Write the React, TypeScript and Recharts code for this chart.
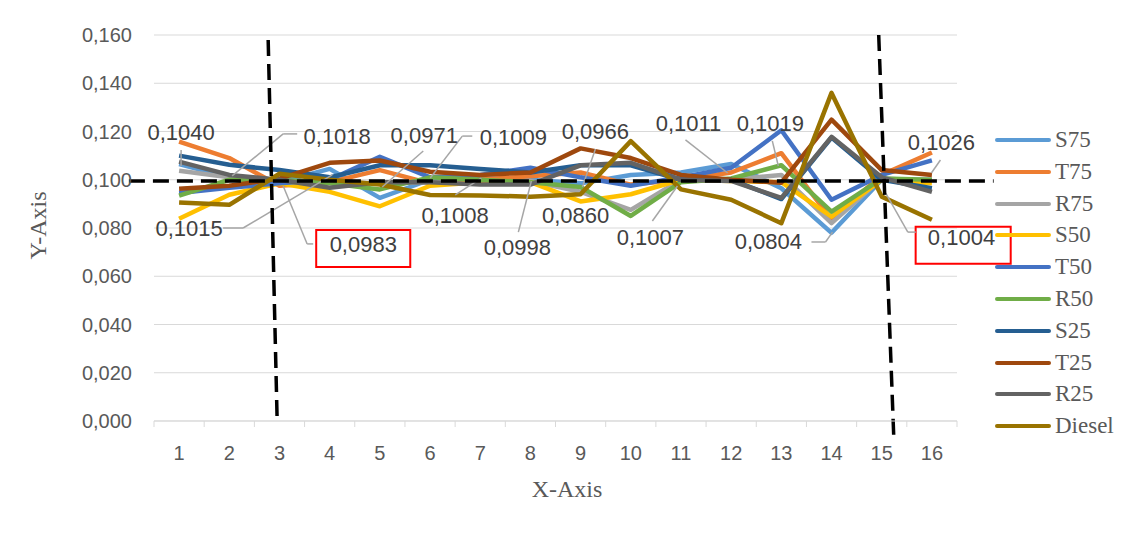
import { LineChart, Line, XAxis, YAxis, CartesianGrid, ReferenceLine, ReferenceArea, ReferenceDot } from "recharts";

// categories on the x axis
const points = [1, 2, 3, 4, 5, 6, 7, 8, 9, 10, 11, 12, 13, 14, 15, 16];

// series values
const s75 = [0.1065, 0.1010, 0.0990, 0.1045, 0.0925, 0.1000, 0.1005, 0.1000, 0.0985, 0.1020, 0.1030, 0.1065, 0.0965, 0.0780, 0.1000, 0.1000];
const t75 = [0.1158, 0.1090, 0.0975, 0.0990, 0.1040, 0.0985, 0.1000, 0.1015, 0.1030, 0.0980, 0.1000, 0.1030, 0.1110, 0.0835, 0.1020, 0.1113];
const r75 = [0.1037, 0.1010, 0.0995, 0.0990, 0.0985, 0.0990, 0.0990, 0.0995, 0.0950, 0.0875, 0.1000, 0.1000, 0.1020, 0.0820, 0.1005, 0.0995];
const s50 = [0.0838, 0.0938, 0.0985, 0.0950, 0.0890, 0.0975, 0.0990, 0.0990, 0.0910, 0.0940, 0.1000, 0.0995, 0.0990, 0.0847, 0.1000, 0.0985];
const t50 = [0.0945, 0.0967, 0.0985, 0.1000, 0.1095, 0.1010, 0.1020, 0.1050, 0.1010, 0.0975, 0.1010, 0.1050, 0.1205, 0.0917, 0.1020, 0.1080];
const r50 = [0.0934, 0.1000, 0.1000, 0.0985, 0.0960, 0.1010, 0.1000, 0.0990, 0.0970, 0.0850, 0.0990, 0.1005, 0.1060, 0.0868, 0.1005, 0.1000];
const s25 = [0.1100, 0.1062, 0.1040, 0.1010, 0.1060, 0.1060, 0.1045, 0.1030, 0.1060, 0.1060, 0.1000, 0.1000, 0.0920, 0.1175, 0.1000, 0.0965];
const t25 = [0.0963, 0.0975, 0.1005, 0.1070, 0.1080, 0.1033, 0.1020, 0.1030, 0.1130, 0.1090, 0.1020, 0.1000, 0.0988, 0.1249, 0.1040, 0.1020];
const r25 = [0.1075, 0.1020, 0.1000, 0.0967, 0.0990, 0.0990, 0.0980, 0.0980, 0.1060, 0.1070, 0.1000, 0.0995, 0.0925, 0.1178, 0.1010, 0.0950];
const diesel = [0.0906, 0.0896, 0.1025, 0.1000, 0.0980, 0.0937, 0.0935, 0.0930, 0.0940, 0.1160, 0.0960, 0.0917, 0.0820, 0.1360, 0.0930, 0.0834];

const seriesNames = ["S75", "T75", "R75", "S50", "T50", "R50", "S25", "T25", "R25", "Diesel"];
const seriesValues = [s75, t75, r75, s50, t50, r50, s25, t25, r25, diesel];
const seriesColors = ["#5B9BD5", "#ED7D31", "#A5A5A5", "#FFC000", "#4472C4", "#70AD47", "#255E91", "#9E480E", "#636363", "#997300"];

const yTicks = [0, 0.02, 0.04, 0.06, 0.08, 0.1, 0.12, 0.14, 0.16];

// callout texts (data coordinates of the text centre)
const calloutText = ["0,1040", "0,1018", "0,1015", "0,0983", "0,0971", "0,1009", "0,0966", "0,1008", "0,0860", "0,0998", "0,1007", "0,1011", "0,1019", "0,0804", "0,1026", "0,1004"];
const calloutX = [1.04, 4.15, 1.2, 4.67, 5.885, 7.66, 9.295, 6.5, 8.9, 7.74, 10.39, 11.15, 12.78, 12.74, 16.19, 16.59];
const calloutY = [0.1194, 0.1181, 0.08, 0.073, 0.1185, 0.1177, 0.1198, 0.085, 0.085, 0.0721, 0.0759, 0.1235, 0.1235, 0.0742, 0.1156, 0.0759];

// leader lines, one polyline each
const leaders: number[][][] = [
  [[1.04, 0.1123], [1.04, 0.1057]],
  [[3.353, 0.119], [3.074, 0.119], [2.057, 0.1016]],
  [[1.877, 0.08], [2.276, 0.08], [4.051, 0.102]],
  [[3.672, 0.0734], [3.552, 0.0734], [3.074, 0.0974]],
  [[5.865, 0.1119], [5.048, 0.097]],
  [[6.842, 0.1181], [6.643, 0.1181], [6.005, 0.1007]],
  [[9.295, 0.1127], [9.036, 0.097]],
  [[6.503, 0.0937], [7.022, 0.1007]],
  [[7.76, 0.0783], [8.019, 0.0995]],
  [[10.43, 0.0829], [10.93, 0.0974]],
  [[11.09, 0.1165], [11.93, 0.1028]],
  [[12.82, 0.1161], [12.94, 0.1057]],
  [[13.6, 0.0742], [13.88, 0.0742], [14.02, 0.0783]],
  [[16.17, 0.1082], [15.99, 0.1028]],
  [[15.68, 0.0783], [15.52, 0.0783], [15.08, 0.0945]],
];

// red boxes [x1, x2, y1, y2]
const boxes = [
  [3.732, 5.606, 0.0638, 0.0792],
  [15.676, 17.57, 0.0652, 0.0805],
];

// dashed marker lines
const dashed = [
  [[0.0, 0.0995], [17.23, 0.0995]],
  [[2.775, 0.1579], [2.954, 0]],
  [[14.94, 0.16], [15.24, -0.0066]],
];

const chartData = points.map((p, i) => {
  const row: any = { x: p };
  seriesNames.forEach((n, k) => (row[n] = seriesValues[k][i]));
  return row;
});

const xTicks: number[] = [];
for (let v = 0.5; v <= 16.5; v += 0.5) xTicks.push(v);

const XTick = (p: any) => {
  const v = p.payload.value;
  if (Number.isInteger(v)) {
    return (
      <text x={p.x} y={p.y + 32} textAnchor="middle" dominantBaseline="central" fontSize={20} fill="#595959" fontFamily="Liberation Sans">
        {v}
      </text>
    );
  }
  return <line x1={p.x} x2={p.x} y1={p.y} y2={p.y + 6} stroke="#d9d9d9" />;
};

const YTick = (p: any) => (
  <text x={p.x - 22} y={p.y} textAnchor="end" dominantBaseline="central" fontSize={20} fill="#595959" fontFamily="Liberation Sans">
    {p.payload.value.toFixed(3).replace(".", ",")}
  </text>
);

export default function App() {
  return (
    <div style={{ position: "relative", width: 1120, height: 526, margin: "-1px 0 0 -1px", border: "1px solid #d9d9d9", borderBottom: "none" }}>
      <LineChart width={1120} height={526} data={chartData} margin={{ top: 27, right: 171, bottom: 0, left: 0 }}>
        <CartesianGrid vertical={false} stroke="#d9d9d9" />
        <XAxis dataKey="x" type="number" domain={[0.5, 16.5]} ticks={xTicks} interval={0} height={113} tickLine={false} tickSize={0} tickMargin={0} axisLine={{ stroke: "#d9d9d9" }} tick={<XTick />} allowDataOverflow />
        <YAxis type="number" domain={[0, 0.16]} ticks={yTicks} width={146} tickLine={false} tickSize={0} tickMargin={0} axisLine={false} tick={<YTick />} allowDataOverflow />
        {seriesNames.map((n, k) => (
          <Line key={n} type="linear" dataKey={n} stroke={seriesColors[k]} strokeWidth={4.5} dot={false} isAnimationActive={false} strokeLinejoin="round" />
        ))}
        {leaders.map((pts, i) =>
          pts.slice(1).map((q, j) => (
            <ReferenceLine key={`l${i}-${j}`} segment={[{ x: pts[j][0], y: pts[j][1] }, { x: q[0], y: q[1] }]} stroke="#a6a6a6" strokeWidth={1.5} ifOverflow="visible" />
          ))
        )}
        {dashed.map((s, i) => (
          <ReferenceLine key={`d${i}`} segment={[{ x: s[0][0], y: s[0][1] }, { x: s[1][0], y: s[1][1] }]} stroke="#000" strokeWidth={3.5} strokeDasharray="16 8" ifOverflow="visible" />
        ))}
        {boxes.map((b, i) => (
          <ReferenceArea key={`b${i}`} x1={b[0]} x2={b[1]} y1={b[2]} y2={b[3]} fill="none" fillOpacity={0} stroke="#ff0000" strokeWidth={2} strokeOpacity={1} ifOverflow="visible" />
        ))}
        {calloutText.map((t, i) => (
          <ReferenceDot
            key={`c${i}`}
            x={calloutX[i]}
            y={calloutY[i]}
            r={0}
            ifOverflow="visible"
            shape={(p: any) => (
              <text x={p.cx} y={p.cy} textAnchor="middle" dominantBaseline="central" fontSize={22} fill="#404040" fontFamily="Liberation Sans">
                {t}
              </text>
            )}
          />
        ))}
      </LineChart>
      <div style={{ position: "absolute", left: 0, top: 0 }}>
        {seriesNames.map((n, k) => (
          <div key={n} style={{ position: "absolute", left: 987, top: 116 + k * 31.8, width: 140, height: 32, display: "flex", alignItems: "center" }}>
            <div style={{ width: 56, height: 4, borderRadius: 2, background: seriesColors[k] }} />
            <span style={{ marginLeft: 4, fontFamily: "Liberation Serif", fontSize: 23, color: "#595959", lineHeight: "32px" }}>{n}</span>
          </div>
        ))}
      </div>
      <div style={{ position: "absolute", left: 0, top: 0, width: 1120, height: 526, pointerEvents: "none" }}>
        <div style={{ position: "absolute", left: 559 - 100, top: 484 - 16, width: 200, textAlign: "center", fontFamily: "Liberation Serif", fontSize: 24, color: "#595959" }}>X-Axis</div>
        <div style={{ position: "absolute", left: 30 - 100, top: 220 - 16, width: 200, textAlign: "center", fontFamily: "Liberation Serif", fontSize: 24, color: "#595959", transform: "rotate(-90deg)" }}>Y-Axis</div>
      </div>
    </div>
  );
}
